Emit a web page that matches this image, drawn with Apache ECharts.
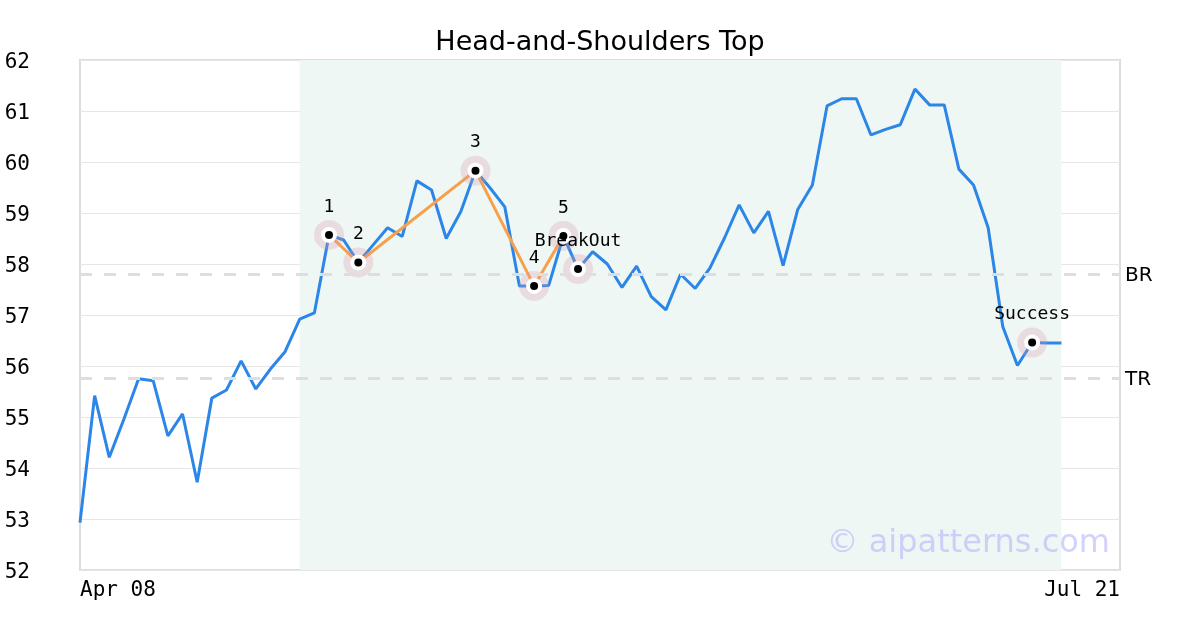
<!DOCTYPE html>
<html>
<head>
<meta charset="utf-8">
<script src="https://cdn.jsdelivr.net/npm/echarts@6/dist/echarts.min.js"></script>
<style>html,body{margin:0;padding:0;background:#fff}#c{width:1200px;height:630px}</style>
</head>
<body>
<div id="c"></div>
<script>
const title = "Head-and-Shoulders Top";
const prices = [52.93,55.42,54.21,54.96,55.75,55.71,54.63,55.06,53.72,55.37,
  55.53,56.10,55.55,55.94,56.28,56.92,57.04,58.57,58.47,58.03,
  58.37,58.71,58.54,59.63,59.45,58.50,59.03,59.83,59.49,59.12,
  57.57,57.57,57.58,58.55,57.90,58.24,58.00,57.54,57.96,57.36,
  57.10,57.80,57.52,57.92,58.51,59.16,58.61,59.03,57.97,59.07,
  59.55,61.10,61.24,61.24,60.53,60.64,60.73,61.43,61.12,61.12,
  59.86,59.55,58.71,56.77,56.01,56.46,56.45,56.45];
const xTickPositions = [0, 71];
const xTickLabels = ["Apr 08", "Jul 21"];
const patternIdx = [17, 19, 27, 31, 33];
const patternLabels = ["1", "2", "3", "4", "5"];
const eventIdx = [34, 65];
const eventLabels = ["BreakOut", "Success"];
const shadeRange = [15, 67];
const refValues = [57.80, 55.76];
const refLabels = ["BR", "TR"];
const yMin = 52, yMax = 62;
const watermark = "© aipatterns.com";

const mono = "DejaVu Sans Mono";
const sans = "DejaVu Sans";
const lineData = prices.map((v, i) => [i, v]);
const patternData = patternIdx.map((i, k) => ({value: [i, prices[i]], name: patternLabels[k]}));
const eventData = eventIdx.map((i, k) => ({value: [i, prices[i]], name: eventLabels[k]}));
const allMarks = patternData.concat(eventData);

const chart = echarts.init(document.getElementById('c'), null, {renderer: 'canvas'});
chart.setOption({
  animation: false,
  backgroundColor: '#fff',
  title: {text: title, left: 'center', top: 24, textStyle: {fontFamily: sans, fontSize: 27, fontWeight: 'normal', color: '#000'}},
  grid: {left: 80, right: 80, top: 60, bottom: 60, show: true, borderColor: '#dddddd', borderWidth: 2, backgroundColor: 'transparent'},
  xAxis: {
    type: 'value', min: xTickPositions[0], max: xTickPositions[1], interval: xTickPositions[1] - xTickPositions[0],
    axisLine: {show: false}, axisTick: {show: false}, splitLine: {show: false},
    axisLabel: {
      fontFamily: mono, fontSize: 21, color: '#000', margin: 10,
      alignMinLabel: 'left', alignMaxLabel: 'right',
      formatter: v => { const k = xTickPositions.indexOf(v); return k >= 0 ? xTickLabels[k] : ''; }
    }
  },
  yAxis: {
    type: 'value', min: yMin, max: yMax, interval: 1,
    axisLine: {show: false}, axisTick: {show: false},
    splitLine: {lineStyle: {color: '#e6e6e6', width: 1}},
    axisLabel: {
      margin: 50, align: 'right',
      formatter: v => '{a|' + v + '}',
      rich: {a: {fontFamily: mono, fontSize: 21, color: '#000', padding: [6, 0, 0, 0]}}
    }
  },
  graphic: [{
    type: 'text', right: 90, bottom: 70, z: 100,
    style: {text: watermark, fontFamily: sans, fontSize: 32, fill: 'rgba(180,180,250,0.6)'}
  }],
  series: [
    {
      type: 'line', data: lineData, showSymbol: false, z: 2,
      lineStyle: {color: '#2b86e8', width: 3},
      markArea: {silent: true, itemStyle: {color: '#eff7f4'}, data: [[{xAxis: shadeRange[0]}, {xAxis: shadeRange[1]}]]},
      markLine: {
        silent: true, symbol: 'none',
        lineStyle: {color: '#dedede', type: [12, 12], width: 3},
        label: {position: 'end', distance: 5, formatter: p => '{a|' + p.name + '}',
          rich: {a: {fontFamily: sans, fontSize: 20, color: '#000', padding: [4, 0, 0, 0]}}},
        data: refValues.map((v, k) => ({yAxis: v, name: refLabels[k]}))
      }
    },
    {
      type: 'line', data: patternData.map(d => d.value), showSymbol: false, z: 3,
      lineStyle: {color: '#f7a04b', width: 3}
    },
    {
      type: 'scatter', data: allMarks.map(d => d.value), symbolSize: 30, z: 4,
      itemStyle: {color: 'rgba(215,150,170,0.28)', opacity: 1}
    },
    {
      type: 'scatter', data: allMarks, symbolSize: 12, z: 5,
      itemStyle: {color: '#000', borderColor: '#fff', borderWidth: 4, opacity: 1},
      label: {show: true, position: 'top', distance: 11, fontFamily: mono, fontSize: 18, color: '#000', formatter: p => p.name}
    }
  ]
});
</script>
</body>
</html>
